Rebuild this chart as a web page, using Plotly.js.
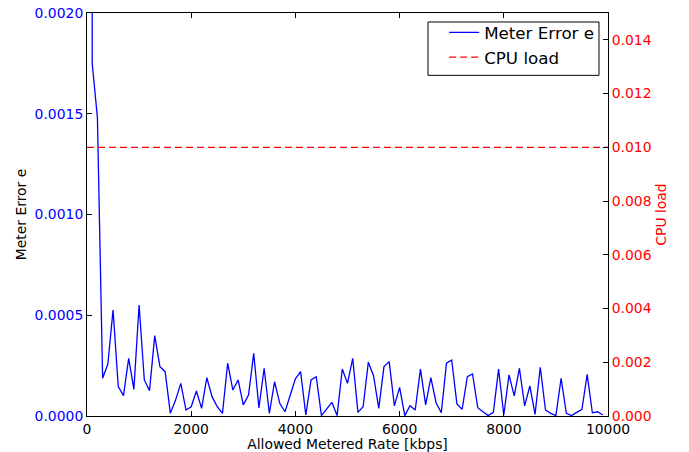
<!DOCTYPE html>
<html>
<head>
<meta charset="utf-8">
<script src="https://cdn.plot.ly/plotly-3.0.1.min.js"></script>
<style>html,body{margin:0;padding:0;background:#fff;}#chart{width:689px;height:452px;}</style>
</head>
<body>
<div id="chart"></div>
<script>
const rate = [0,100,200,300,400,500,600,700,800,900,1000,1100,1200,1300,1400,1500,1600,1700,1800,1900,
  2000,2100,2200,2300,2400,2500,2600,2700,2800,2900,3000,3100,3200,3300,3400,3500,3600,3700,3800,3900,
  4000,4100,4200,4300,4400,4500,4600,4700,4800,4900,5000,5100,5200,5300,5400,5500,5600,5700,5800,5900,
  6000,6100,6200,6300,6400,6500,6600,6700,6800,6900,7000,7100,7200,7300,7400,7500,7600,7700,7800,7900,
  8000,8100,8200,8300,8400,8500,8600,8700,8800,8900,9000,9100,9200,9300,9400,9500,9600,9700,9800,9900];
const meterError = [0.05,0.00175,0.00148,0.000187,0.000258,0.000526,0.000146,0.000101,0.000286,0.000132,
  0.000551,0.000179,0.000126,0.000399,0.000245,0.00022,0.000013,0.000079,0.000162,0.00003,
  0.000046,0.000124,0.000038,0.00019,0.000096,0.000046,0.000013,0.000262,0.000129,0.000179,
  0.000055,0.000104,0.000311,0.00004,0.000237,0.000013,0.00017,0.000063,0.000021,0.000103,
  0.000184,0.00022,0.000005,0.000179,0.000195,0.000002,0.000035,0.000068,0.000002,0.000233,
  0.000162,0.000286,0.000018,0.000046,0.000267,0.0002,0.000038,0.000245,0.00027,0.00005,
  0.000142,0.000002,0.000051,0.00003,0.000233,0.000055,0.00019,0.000066,0.000016,0.000262,
  0.000278,0.00006,0.000033,0.000195,0.000209,0.000041,0.000021,0.000002,0.000018,0.000233,
  0.000005,0.000204,0.0001,0.000237,0.00005,0.000149,0.000008,0.000242,0.00003,0.000013,
  0.000002,0.000187,0.000013,0.000002,0.000018,0.000033,0.000207,0.000016,0.000021,0.000005];
const cpuRate = [0, 10000];
const cpuLoad = [0.01, 0.01];
const xTicks = [0, 2000, 4000, 6000, 8000, 10000];
const y1Ticks = [0, 0.0005, 0.001, 0.0015, 0.002];
const y2Ticks = [0, 0.002, 0.004, 0.006, 0.008, 0.010, 0.012, 0.014];

const FONT = 'DejaVu Sans, sans-serif';
const traces = [
  {x: rate, y: meterError, type: 'scatter', mode: 'lines', name: 'Meter Error e',
   line: {color: '#0000ff', width: 1.3}, yaxis: 'y'},
  {x: cpuRate, y: cpuLoad, type: 'scatter', mode: 'lines', name: 'CPU load',
   line: {color: '#ff0000', width: 1.3, dash: '7px,4px'}, yaxis: 'y2'}
];
const layout = {
  width: 689, height: 452,
  margin: {l: 87, r: 81, t: 13, b: 36},
  paper_bgcolor: '#fff', plot_bgcolor: '#fff',
  font: {family: FONT, size: 13.9, color: '#000'},
  showlegend: true,
  legend: {x: 0.983, y: 0.995, xanchor: 'right', yanchor: 'top',
    bgcolor: 'rgba(0,0,0,0)', borderwidth: 0, itemwidth: 30,
    font: {family: FONT, size: 16.7, color: '#000'}},
  shapes: [{type: 'rect', xref: 'paper', yref: 'paper', layer: 'above',
    x0: 0.6545, x1: 0.9827, y0: 0.8453, y1: 0.9777,
    line: {color: '#000', width: 1}, fillcolor: '#fff'}],
  xaxis: {range: [0, 10000], tickvals: xTicks, ticktext: xTicks.map(String),
    showgrid: false, zeroline: false, showline: true, linecolor: '#000', linewidth: 1,
    mirror: 'ticks', ticks: 'inside', ticklen: 5, tickcolor: '#000',
    ticklabelstandoff: 0,
    tickfont: {family: FONT, size: 13.9, color: '#000'},
    title: {text: 'Allowed Metered Rate [kbps]', standoff: 9, font: {family: FONT, size: 13.9, color: '#000'}}},
  yaxis: {range: [0, 0.002], tickvals: y1Ticks, tickformat: '.4f',
    showgrid: false, zeroline: false, showline: true, linecolor: '#000', linewidth: 1,
    ticks: 'inside', ticklen: 5, tickcolor: '#000',
    tickfont: {family: FONT, size: 13.9, color: '#0000ff'},
    title: {text: 'Meter Error e', standoff: 4, font: {family: FONT, size: 13.9, color: '#000'}}},
  yaxis2: {range: [0, 0.015], tickvals: y2Ticks, tickformat: '.3f',
    overlaying: 'y', side: 'right', anchor: 'x',
    showgrid: false, zeroline: false, showline: true, linecolor: '#000', linewidth: 1,
    ticks: 'inside', ticklen: 5, tickcolor: '#000',
    tickfont: {family: FONT, size: 13.9, color: '#ff0000'},
    title: {text: 'CPU load', standoff: 5, font: {family: FONT, size: 13.9, color: '#ff0000'}}}
};
Plotly.newPlot('chart', traces, layout, {staticPlot: true, displayModeBar: false});
</script>
</body>
</html>
